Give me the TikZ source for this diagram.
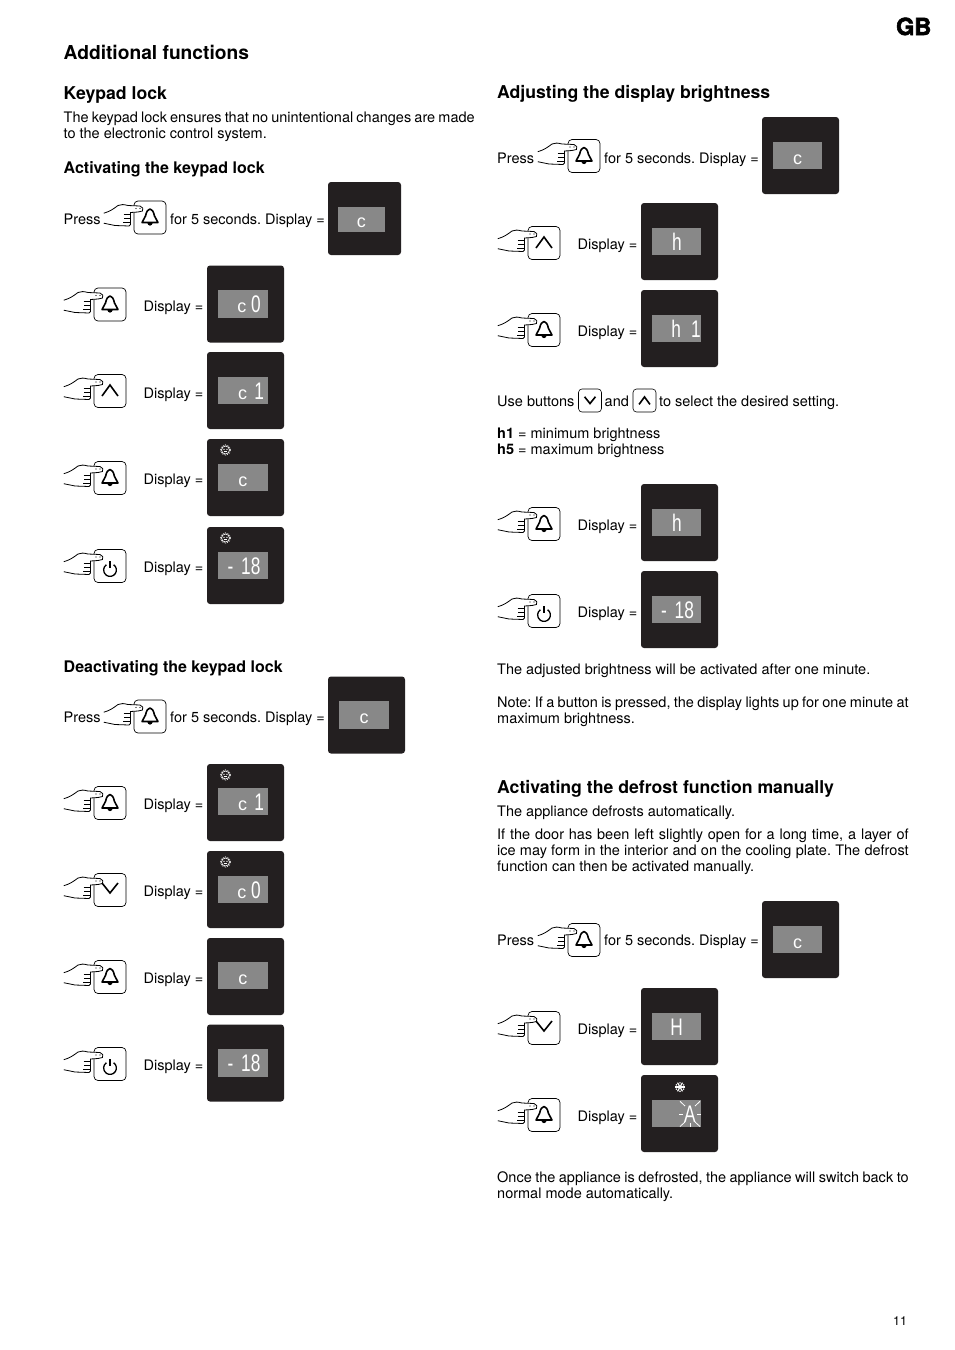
\documentclass[tikz,border=0pt]{standalone}
\usepackage{fontspec}
\setmainfont{TeX Gyre Heros}
\newfontfamily\lcdfont{Liberation Sans}
\newfontfamily\gbfont[BoldFeatures={FakeBold=2.5}]{TeX Gyre Heros}
\usetikzlibrary{positioning,calc}
\definecolor{panelblack}{RGB}{35,31,32}
\definecolor{lcdgrey}{RGB}{136,136,136}
\frenchspacing
\newcommand{\lcdc}{\scalebox{1.39}[1]{\fontsize{18}{18}\selectfont c}}
\tikzset{
    pics/bell/.style={code={
        \draw[line width=1.6pt, line join=round] (-8,5) -- (-4.5,-1.5) .. controls (-3.5,-6) and (-2,-8.5) .. (0,-8.5)
            .. controls (2,-8.5) and (3.5,-6) .. (4.5,-1.5) -- (8,5) -- cycle;
        \fill (-2.6,5.5) arc (180:0:2.6) -- cycle;
    }},
    pics/up/.style={code={\draw[line width=1.6pt] (-8,5) -- (0,-6) -- (8,5);}},
    pics/down/.style={code={\draw[line width=1.6pt] (-8,-7) -- (0,3) -- (8,-7);}},
    pics/power/.style={code={
        \draw[line width=1.3pt] (-55:6.4) ++(0,4) arc (-55:235:6.4);
        \draw[line width=1.3pt] (0,-5) -- (0,2);
    }},
    pics/press/.style={code={
        \draw[line width=0.7pt, rounded corners=4pt, fill=white] (-16,-16.5) rectangle (16,16.5);
        \draw[line width=0.8pt, fill=white] (-46.2,-4.3) .. controls (-40,-6) and (-36,-9) .. (-32,-12)
            .. controls (-29,-13.5) and (-26,-13) .. (-22,-12) -- (-10,-11.5)
            .. controls (-7.5,-11) and (-6,-8) .. (-7.5,-6.5) -- (-12,-5.5) -- (-19.5,-5)
            -- (-19.5,7) -- (-21,8.5) -- (-35,8) -- (-46.2,5.7);
        \draw[line width=0.8pt] (-26.5,-3) -- (-19.5,-3) (-26,1) -- (-19.5,1) (-27,5) -- (-19.5,5);
        \fill (-14,-9) circle (0.7) (-10,-9) circle (0.7);
        \pic {#1};
    }},
    pics/lockmark/.style={code={
        \draw[white, line width=0.7pt] (0,0) circle (4);
        \draw[white, line width=0.6pt, dash pattern=on 0.8pt off 1pt] (0,0) circle (5.2);
        \fill[white] (-1.5,-0.7) circle (0.7) (1.5,-0.7) circle (0.7);
        \draw[white, line width=0.6pt] (-1.8,1.7) -- (1.8,1.7);
    }},
    pics/frostmark/.style={code={
        \foreach \ang in {0,60,120} {\draw[white, line width=1.2pt] (\ang:5) -- (\ang+180:5);}
        \foreach \ang in {30,90,...,330} {\fill[white] (\ang:4.2) circle (0.8);}
    }}
}
\begin{document}
\begin{tikzpicture}[
    x=1pt, y=-1pt,
    panelbox/.style={rectangle, rounded corners=3pt, fill=panelblack, inner sep=0pt, minimum size=77pt},
    lcdbox/.style={rectangle, fill=lcdgrey, inner sep=0pt, minimum width=49.5pt, minimum height=27.5pt},
    readout/.style={anchor=base, inner sep=0pt, text=white, xscale=0.72, transform shape,
                    font=\lcdfont\fontsize{24}{24}\selectfont},
    bodytext/.style={anchor=base west, inner sep=0pt, font=\fontsize{14.5}{16}\selectfont},
    headtext/.style={anchor=base west, inner sep=0pt, font=\fontsize{17.65}{20}\selectfont\bfseries},
    subtext/.style={anchor=base west, inner sep=0pt, font=\fontsize{16}{18}\selectfont\bfseries},
    keybox/.style={rectangle, rounded corners=3.5pt, draw, line width=0.6pt, fill=white, inner sep=0pt, minimum size=23pt}
]
\useasboundingbox (0,0) rectangle (954,1350);

% Page heads
\node[anchor=base east, inner sep=0pt, font=\gbfont\bfseries\fontsize{23.5}{24}\selectfont] (pagelang) at (931.5,35) {GB};
\node[anchor=base west, inner sep=0pt, font=\fontsize{19.2}{20}\selectfont\bfseries] (pagetitle) at (63.5,59) {Additional functions};
\node[bodytext, font=\fontsize{12.5}{14}\selectfont] (pagenum) at (893,1325) {11};

% Keypad lock
\node[headtext] (lockhead) at (63.5,99) {Keypad lock};
\node[bodytext] (lockline1) at (63.5,122) {\makebox[411pt][s]{The keypad lock ensures that no unintentional changes are made}};
\node[bodytext] (lockline2) at (63.5,138) {to the electronic control system.};

% Activating
\node[subtext] (onhead) at (63.5,173) {Activating the keypad lock};
\node[bodytext] (onpress) at (63.5,224) {Press};
\pic at (150,217.5) {press=bell};
\node[bodytext] (onfor) at (170,224) {for 5 seconds. Display =};
\node[panelbox, minimum size=73pt] (on0panel) at (364.5,218.5) {};
\node[lcdbox, minimum width=47pt, minimum height=25pt] (on0lcd) at (361.5,219.5) {};
\node[readout] (on0read) at ($(on0lcd.south)+(0,-5)$) {\lcdc};

\pic at (110,304.5) {press=bell};
\node[bodytext] (on1label) at (143.5,311) {Display =};
\node[panelbox] (on1panel) at (245.5,304) {};
\node[lcdbox] (on1lcd) at ($(on1panel)+(-2.5,0)$) {};
\node[readout] (on1read) at ($(on1lcd.south)+(6,-5)$) {\lcdc\hspace{6.5pt}0};

\pic at (110,391) {press=up};
\node[bodytext] (on2label) at (143.5,398) {Display =};
\node[panelbox] (on2panel) at (245.5,390.5) {};
\node[lcdbox] (on2lcd) at ($(on2panel)+(-2.5,0)$) {};
\node[readout] (on2read) at ($(on2lcd.south)+(8,-5)$) {\lcdc\hspace{10pt}1};

\pic at (110,478) {press=bell};
\node[bodytext] (on3label) at (143.5,484) {Display =};
\node[panelbox] (on3panel) at (245.5,477.5) {};
\node[lcdbox] (on3lcd) at ($(on3panel)+(-2.5,0)$) {};
\node[readout] (on3read) at ($(on3lcd.south)+(0,-5)$) {\lcdc};
\pic at (225.5,450) {lockmark};

\pic at (110,566) {press=power};
\node[bodytext] (on4label) at (143.5,572) {Display =};
\node[panelbox] (on4panel) at (245.5,565.5) {};
\node[lcdbox] (on4lcd) at ($(on4panel)+(-2.5,0)$) {};
\node[readout] (on4read) at ($(on4lcd.south)+(1,-5)$) {-\hspace{11pt}18};
\pic at (225.5,538) {lockmark};

% Deactivating
\node[subtext] (offhead) at (63.5,672) {Deactivating the keypad lock};
\node[bodytext] (offpress) at (63.5,722) {Press};
\pic at (150,716.5) {press=bell};
\node[bodytext] (offfor) at (170,722) {for 5 seconds. Display =};
\node[panelbox] (off0panel) at (366.5,715) {};
\node[lcdbox] (off0lcd) at ($(off0panel)+(-2.5,0)$) {};
\node[readout] (off0read) at ($(off0lcd.south)+(0,-5)$) {\lcdc};

\pic at (110,803) {press=bell};
\node[bodytext] (off1label) at (143.5,809) {Display =};
\node[panelbox] (off1panel) at (245.5,802.5) {};
\node[lcdbox] (off1lcd) at ($(off1panel)+(-2.5,-1)$) {};
\node[readout] (off1read) at ($(off1lcd.south)+(8,-5)$) {\lcdc\hspace{10pt}1};
\pic at (225.5,775) {lockmark};

\pic at (110,890) {press=down};
\node[bodytext] (off2label) at (143.5,896) {Display =};
\node[panelbox] (off2panel) at (245.5,889.5) {};
\node[lcdbox] (off2lcd) at ($(off2panel)+(-2.5,0)$) {};
\node[readout] (off2read) at ($(off2lcd.south)+(6,-5)$) {\lcdc\hspace{6.5pt}0};
\pic at (225.5,862) {lockmark};

\pic at (110,977) {press=bell};
\node[bodytext] (off3label) at (143.5,983) {Display =};
\node[panelbox] (off3panel) at (245.5,976.5) {};
\node[lcdbox] (off3lcd) at ($(off3panel)+(-2.5,-1)$) {};
\node[readout] (off3read) at ($(off3lcd.south)+(0,-5)$) {\lcdc};

\pic at (110,1064) {press=power};
\node[bodytext] (off4label) at (143.5,1070) {Display =};
\node[panelbox] (off4panel) at (245.5,1063) {};
\node[lcdbox] (off4lcd) at ($(off4panel)+(-2.5,0)$) {};
\node[readout] (off4read) at ($(off4lcd.south)+(1,-5)$) {-\hspace{11pt}18};

% Brightness
\node[headtext] (brighthead) at (497,98) {Adjusting the display brightness};
\node[bodytext] (brpress) at (497,163) {Press};
\pic at (584,156) {press=bell};
\node[bodytext] (brfor) at (604,163) {for 5 seconds. Display =};
\node[panelbox] (br0panel) at (800.5,155.5) {};
\node[lcdbox] (br0lcd) at ($(br0panel)+(-3,0)$) {};
\node[readout] (br0read) at ($(br0lcd.south)+(0,-5)$) {\lcdc};

\pic at (544,243) {press=up};
\node[bodytext] (br1label) at (577.5,249) {Display =};
\node[panelbox] (br1panel) at (679.5,241.5) {};
\node[lcdbox] (br1lcd) at ($(br1panel)+(-3,0)$) {};
\node[readout] (br1read) at ($(br1lcd.south)+(0.5,-5)$) {h};

\pic at (544,330) {press=bell};
\node[bodytext] (br2label) at (577.5,336) {Display =};
\node[panelbox] (br2panel) at (679.5,328.5) {};
\node[lcdbox] (br2lcd) at ($(br2panel)+(-3,0)$) {};
\node[readout] (br2read) at ($(br2lcd.south)+(9.5,-5)$) {h\hspace{14pt}1};

\node[bodytext] (usetext) at (497,406) {Use buttons};
\node[keybox] (usedown) at (590,400.5) {};
\pic[scale=0.68] at (590,401.5) {down};
\node[bodytext] (usetand) at (604.5,406) {and};
\node[keybox] (useup) at (644.5,400.5) {};
\pic[scale=0.68] at (644.5,401) {up};
\node[bodytext] (uselast) at (659,406) {to select the desired setting.};
\node[bodytext] (minline) at (497,438) {\textbf{h1} = minimum brightness};
\node[bodytext] (maxline) at (497,454) {\textbf{h5} = maximum brightness};

\pic at (544,524) {press=bell};
\node[bodytext] (br3label) at (577.5,530) {Display =};
\node[panelbox] (br3panel) at (679.5,522.5) {};
\node[lcdbox] (br3lcd) at ($(br3panel)+(-3,0)$) {};
\node[readout] (br3read) at ($(br3lcd.south)+(0.5,-5)$) {h};

\pic at (544,611) {press=power};
\node[bodytext] (br4label) at (577.5,617) {Display =};
\node[panelbox] (br4panel) at (679.5,609.5) {};
\node[lcdbox] (br4lcd) at ($(br4panel)+(-3,0)$) {};
\node[readout] (br4read) at ($(br4lcd.south)+(1,-5)$) {-\hspace{11pt}18};

\node[bodytext] (adjline) at (497,674) {The adjusted brightness will be activated after one minute.};
\node[bodytext] (noteline1) at (497,707) {\makebox[411.5pt][s]{Note: If a button is pressed, the display lights up for one minute at}};
\node[bodytext] (noteline2) at (497,723) {maximum brightness.};

% Defrost
\node[headtext] (frosthead) at (497,793) {Activating the defrost function manually};
\node[bodytext] (frostline0) at (497,816) {The appliance defrosts automatically.};
\node[bodytext] (frostline1) at (497,839) {\makebox[411.5pt][s]{If the door has been left slightly open for a long time, a layer of}};
\node[bodytext] (frostline2) at (497,855) {\makebox[411.5pt][s]{ice may form in the interior and on the cooling plate. The defrost}};
\node[bodytext] (frostline3) at (497,871) {function can then be activated manually.};

\node[bodytext] (frpress) at (497,945) {Press};
\pic at (584,940) {press=bell};
\node[bodytext] (frfor) at (604,945) {for 5 seconds. Display =};
\node[panelbox] (fr0panel) at (800.5,939.5) {};
\node[lcdbox] (fr0lcd) at ($(fr0panel)+(-3,0)$) {};
\node[readout] (fr0read) at ($(fr0lcd.south)+(0,-5)$) {\lcdc};

\pic at (544,1028) {press=down};
\node[bodytext] (fr1label) at (577.5,1034) {Display =};
\node[panelbox] (fr1panel) at (679.5,1026.5) {};
\node[lcdbox] (fr1lcd) at ($(fr1panel)+(-3,0)$) {};
\node[readout] (fr1read) at ($(fr1lcd.south)+(0,-5)$) {H};

\pic at (544,1115) {press=bell};
\node[bodytext] (fr2label) at (577.5,1121) {Display =};
\node[panelbox] (fr2panel) at (679.5,1113.5) {};
\node[lcdbox] (fr2lcd) at ($(fr2panel)+(-3,0)$) {};
\node[readout] (fr2read) at ($(fr2lcd.south)+(13.5,-5)$) {A};
\pic at (680,1087) {frostmark};
\foreach \ax/\ay/\bx/\by in {-10/-12.7/-5/-8, 10/-12.7/5/-8, -11/0.7/-7/0.7, 11/0.7/7/0.7, 0/12.5/0/8.5, -10/12.5/-5/8, 10/12.5/5/8} {
    \draw[white, line width=0.8pt] ($(690,1114)+(\ax,\ay)$) -- ($(690,1114)+(\bx,\by)$);
}

\node[bodytext] (endline1) at (497,1182) {\makebox[411.5pt][s]{Once the appliance is defrosted, the appliance will switch back to}};
\node[bodytext] (endline2) at (497,1198) {normal mode automatically.};

\end{tikzpicture}
\end{document}
